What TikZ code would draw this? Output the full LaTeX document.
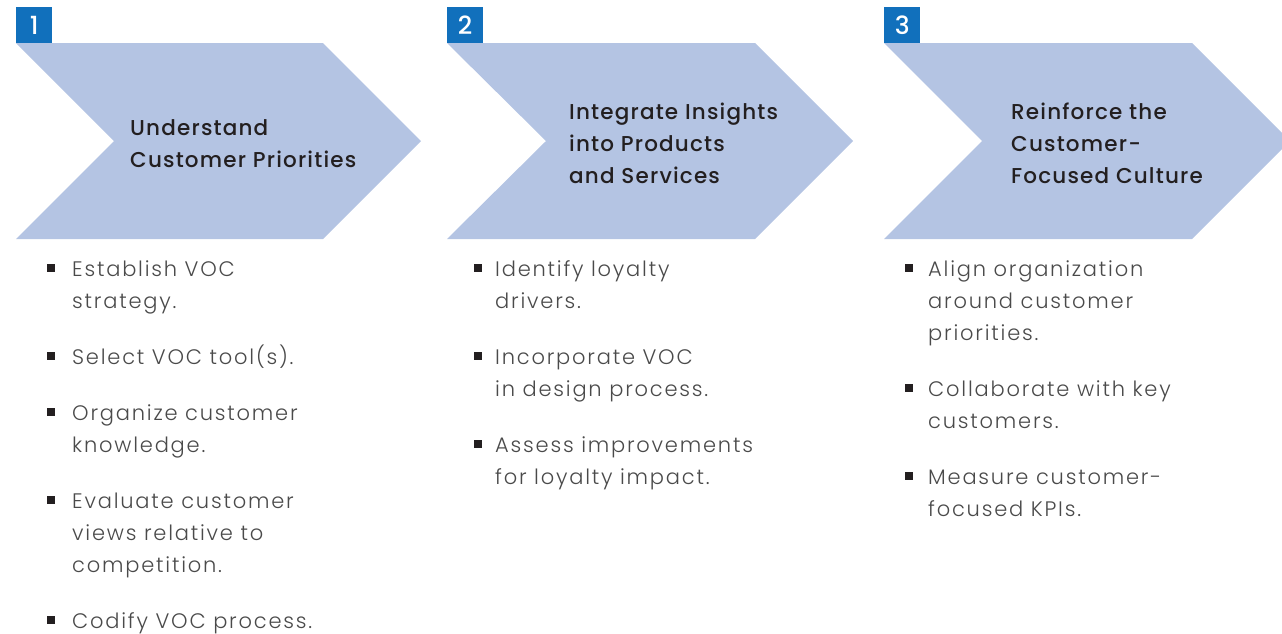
\documentclass[tikz,border=0pt]{standalone}
\usepackage{fontspec}
\setmainfont{Poppins}
\newfontfamily\titlefont[LetterSpace=5.5]{Poppins Medium}
\newfontfamily\numfont{Poppins Medium}
\newfontfamily\bodyfont[LetterSpace=8.5]{Poppins Light}
\begin{document}
\begin{tikzpicture}[x=1pt,y=-1pt]
\definecolor{chev}{HTML}{B4C4E3}
\definecolor{numblue}{HTML}{1170BC}
\definecolor{ink}{HTML}{231F20}
\definecolor{bodyc}{HTML}{4A4A4A}
\tikzset{
 chevron/.style={fill=chev, draw=none},
 numbox/.style={fill=numblue, text=white, minimum width=36pt, minimum height=36pt, inner sep=0pt, anchor=north west, font=\numfont\fontsize{25}{25}\selectfont},
 title/.style={anchor=base west, inner sep=0pt, text=ink, font=\titlefont\fontsize{21.5}{32}\selectfont},
 item/.style={anchor=base west, inner sep=0pt, text=bodyc, font=\bodyfont\fontsize{21}{32}\selectfont},
 bul/.style={fill=ink, minimum size=7.5pt, inner sep=0pt, anchor=north west}
}
\useasboundingbox (0,0) rectangle (1282,633);
\begin{scope}
\clip (0,0) rectangle (1282,633);
\fill[chevron] (16,43) -- (323,43) -- (421,141) -- (323,239) -- (16,239) -- (114,141) -- cycle;
\fill[chevron] (447,43) -- (755,43) -- (853,141) -- (755,239) -- (447,239) -- (546,141) -- cycle;
\fill[chevron] (884,43) -- (1192,43) -- (1290,141) -- (1192,239) -- (884,239) -- (982,141) -- cycle;
\end{scope}
\node[numbox] (n1) at (16,7) {1};
\node[numbox] (n2) at (447,7) {2};
\node[numbox] (n3) at (884,7) {3};
% titles
\node[title] (h1a) at (130,135) {Understand};
\node[title] (h1b) at (130,167) {Customer Priorities};
\node[title] (h2a) at (569,119) {Integrate Insights};
\node[title] (h2b) at (569,151) {into Products};
\node[title] (h2c) at (569,183) {and Services};
\node[title] (h3a) at (1011,119) {Reinforce the};
\node[title] (h3b) at (1011,151) {Customer-};
\node[title] (h3c) at (1011,183) {Focused Culture};
% column 1
\node[bul] (b11) at (47,264) {};
\node[item] (t11a) at (72,276) {Establish VOC};
\node[item] (t11b) at (72,308) {strategy.};
\node[bul] (b12) at (47,352) {};
\node[item] (t12a) at (72,364) {Select VOC tool(s).};
\node[bul] (b13) at (47,408) {};
\node[item] (t13a) at (72,420) {Organize customer};
\node[item] (t13b) at (72,452) {knowledge.};
\node[bul] (b14) at (47,496) {};
\node[item] (t14a) at (72,508) {Evaluate customer};
\node[item] (t14b) at (72,540) {views relative to};
\node[item] (t14c) at (72,572) {competition.};
\node[bul] (b15) at (47,616) {};
\node[item] (t15a) at (72,628) {Codify VOC process.};
% column 2
\node[bul] (b21) at (474,264) {};
\node[item] (t21a) at (495,276) {Identify loyalty};
\node[item] (t21b) at (495,308) {drivers.};
\node[bul] (b22) at (474,352) {};
\node[item] (t22a) at (495,364) {Incorporate VOC};
\node[item] (t22b) at (495,396) {in design process.};
\node[bul] (b23) at (474,440) {};
\node[item] (t23a) at (495,452) {Assess improvements};
\node[item] (t23b) at (495,484) {for loyalty impact.};
% column 3
\node[bul] (b31) at (905,264) {};
\node[item] (t31a) at (928,276) {Align organization};
\node[item] (t31b) at (928,308) {around customer};
\node[item] (t31c) at (928,340) {priorities.};
\node[bul] (b32) at (905,384) {};
\node[item] (t32a) at (928,396) {Collaborate with key};
\node[item] (t32b) at (928,428) {customers.};
\node[bul] (b33) at (905,472) {};
\node[item] (t33a) at (928,484) {Measure customer-};
\node[item] (t33b) at (928,516) {focused KPIs.};
\end{tikzpicture}
\end{document}
